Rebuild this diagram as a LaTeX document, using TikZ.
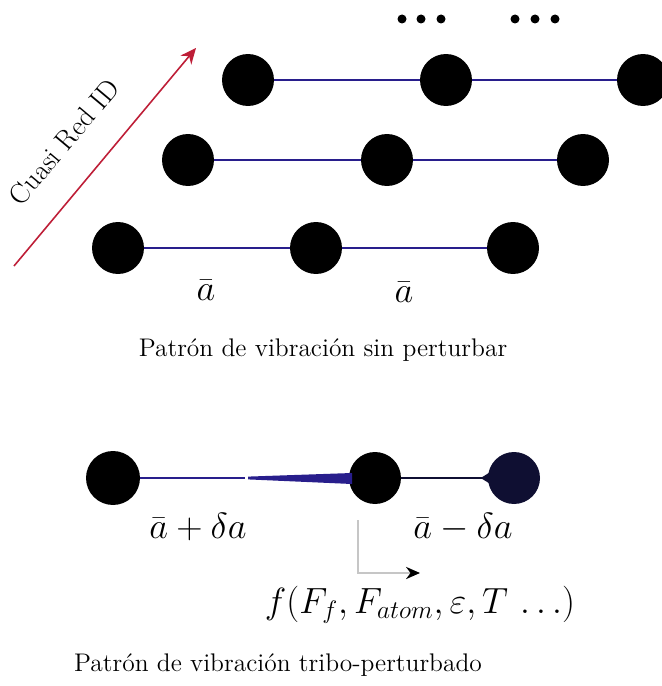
\documentclass[tikz,border=0pt]{standalone}
\usepackage{tikz}
\usepackage{xcolor}
\usetikzlibrary{arrows.meta}
\definecolor{bondblue}{RGB}{40,30,140}
\definecolor{bondnavy}{RGB}{15,15,50}
\definecolor{axisred}{RGB}{190,30,55}

\begin{document}
\begin{tikzpicture}[
  x=0.02cm, y=-0.02cm,
  atom/.style={circle, fill=black, minimum size=1.04cm, inner sep=0pt},
  dotmark/.style={circle, fill=black, minimum size=0.18cm, inner sep=0pt},
  bond/.style={draw=bondblue, line width=1.5pt},
  caption/.style={font=\fontsize{14.5}{17}\selectfont},
  lbl/.style={font=\fontsize{20}{24}\selectfont}
]
\useasboundingbox (0,0) rectangle (662,686);

% red de equilibrio
\node[atom] (a1) at (248,80) {};
\node[atom] (a2) at (446,80) {};
\node[atom] (a3) at (643,80) {};
\node[atom] (b1) at (188,160) {};
\node[atom] (b2) at (387,160) {};
\node[atom] (b3) at (583,160) {};
\node[atom] (c1) at (118,248) {};
\node[atom] (c2) at (316,248) {};
\node[atom] (c3) at (513,248) {};

\draw[bond] (a1) -- (a2) (a2) -- (a3);
\draw[bond] (b1) -- (b2) (b2) -- (b3);
\draw[bond] (c1) -- (c2) (c2) -- (c3);

\foreach \x [count=\i] in {402,421,441,515,535,555}
  \node[dotmark] (dot\i) at (\x,19) {};

\node[lbl] (abar1) at (206,290) {$\bar{a}$};
\node[lbl] (abar2) at (404,292) {$\bar{a}$};

\coordinate (axstart) at (14,266);
\coordinate (axend) at (196,48);
\draw[axisred, line width=0.9pt, -{Stealth[length=9pt,width=8pt]}] (axstart) -- (axend);
\node[caption, font=\fontsize{16}{18}\selectfont, rotate=50] (axis) at (64,142) {Cuasi Red ID};

\node[caption] (cap1) at (323,350) {Patrón de vibración sin perturbar};

% red perturbada
\node[atom, minimum size=1.08cm] (p1) at (113,478) {};
\node[atom] (p2) at (375,478) {};
\node[atom, fill=bondnavy] (p3) at (514,478) {};

\coordinate (mid) at (245,478);
\draw[bond] (p1) -- (mid);
\fill[bondblue] (248,476.6) -- (352,473) -- (352,484) -- (248,479.4) -- cycle;
\draw[draw=bondnavy, line width=1.5pt] (p2) -- (p3);
\fill[bondnavy] (482,477.2) -- (492,471) -- (492,485) -- (482,478.8) -- cycle;

\node[lbl] (plus) at (198,527) {$\bar{a}+\delta a$};
\node[lbl] (minus) at (463,527) {$\bar{a}-\delta a$};

\coordinate (fstart) at (358,520);
\coordinate (fend) at (420,573);
\draw[gray!45, line width=0.8pt, -{Stealth[black, length=8pt, width=7pt]}] (fstart) |- (fend);
\node[lbl] (force) at (420,605) {$f(F_f,F_{atom},\varepsilon,T\,\ldots)$};

\node[caption] (cap2) at (278,665) {Patrón de vibración tribo-perturbado};
\end{tikzpicture}
\end{document}
